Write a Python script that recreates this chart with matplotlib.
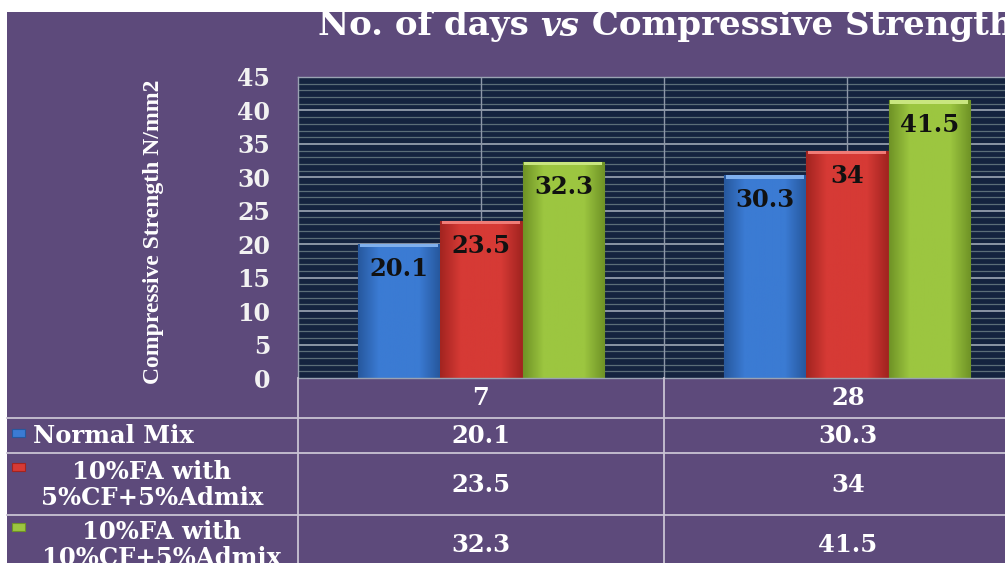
import matplotlib
matplotlib.use('Agg')
import matplotlib.pyplot as plt
import numpy as np
from matplotlib.colors import LinearSegmentedColormap

# data
days = ['7', '28']
series = ['Normal Mix', '10%FA with\n5%CF+5%Admix', '10%FA with\n10%CF+5%Admix']
normal = [20.1, 30.3]
fa5 = [23.5, 34]
fa10 = [32.3, 41.5]
values = [normal, fa5, fa10]
colors = ['#3b7bd3', '#d63a35', '#9cc640']
dark = ['#27589e', '#a32420', '#6f9326']
light = ['#7fb0ee', '#f07b76', '#c9e67f']

W, H = 1005, 563
purple = '#5d4a7b'
serif = 'DejaVu Serif'

fig = plt.figure(figsize=(W / 100, H / 100), dpi=100, facecolor='white')

# purple panel (white strip top and left like the crop)
bg = fig.add_axes([7 / W, 0, 1 - 7 / W, 1 - 12 / H])
bg.set_facecolor(purple)
bg.set_xticks([])
bg.set_yticks([])
for s in bg.spines.values():
    s.set_visible(False)

# plot area
left, right, top, bottom = 298, 1030, 77, 378
ax = fig.add_axes([left / W, 1 - bottom / H, (right - left) / W, (bottom - top) / H])
ax.set_facecolor('#14233f')
for y in range(1, 45):
    if y % 5 == 0:
        ax.axhline(y, color='#a9b3c0', lw=1.1, zorder=1)
    else:
        ax.axhline(y, color='#5b6d78', lw=0.9, zorder=1)
for xv in [0, 0.5, 1]:
    ax.axvline(xv, color='#8d97a8', lw=1, zorder=1)
for s in ax.spines.values():
    s.set_color('#9aa3b3')
    s.set_linewidth(1)

x = np.arange(len(days))
bw = 0.222
offs = [-0.225, 0, 0.225]
for i, vals in enumerate(values):
    bars = ax.bar(x + offs[i], vals, bw, color=colors[i], edgecolor=dark[i], lw=0.8, zorder=2)
    cmap = LinearSegmentedColormap.from_list('b%d' % i, [dark[i], colors[i], colors[i], colors[i], dark[i]])
    grad = np.linspace(0, 1, 100).reshape(1, -1)
    for b, v in zip(bars, vals):
        im = ax.imshow(grad, cmap=cmap, aspect='auto', zorder=2.5,
                       extent=[b.get_x(), b.get_x() + b.get_width(), 0, v])
        im.set_clip_path(b)
        ax.bar(b.get_x() + b.get_width() / 2, 0.5, b.get_width() * 0.96, bottom=v - 0.5,
               color=light[i], lw=0, zorder=2.6)
        ax.annotate('%g' % v, (b.get_x() + b.get_width() / 2, v), xytext=(0, -18),
                    textcoords='offset points', ha='center', va='center',
                    fontsize=17.5, fontweight='bold', family=serif, color='#111111', zorder=3)
ax.set_xlim(-0.5, 1.5)
ax.set_ylim(0, 45)
ax.set_xticks([])
ax.set_yticks(range(0, 46, 5))
ax.tick_params(axis='y', length=0, pad=20, labelsize=17, labelcolor='#f2f2f2')
for t in ax.get_yticklabels():
    t.set_fontweight('bold')
    t.set_family(serif)

# y label
fig.text(154 / W, 1 - 232 / H, 'Compressive Strength N/mm2', rotation=90, ha='center', va='center',
         fontsize=17, fontweight='bold', family='Liberation Serif', color='white')

# title in three pieces so "vs" can be italic
parts = [('No. of days ', 'normal'), ('vs', 'italic'), (' Compressive Strength', 'normal')]
fig.canvas.draw()
r = fig.canvas.get_renderer()
tx = 318
for txt, st in parts:
    t = fig.text(tx / W, 1 - 26 / H, txt, ha='left', va='center', fontsize=24.5,
                 fontweight='bold', style=st, family=serif, color='white')
    tx += t.get_window_extent(r).width

# data table
lc = '#c9c3d3'
def hline(y, x0, x1):
    fig.add_artist(plt.Line2D([x0 / W, x1 / W], [1 - y / H, 1 - y / H], color=lc, lw=1.3))
def vline(xp, y0, y1):
    fig.add_artist(plt.Line2D([xp / W, xp / W], [1 - y0 / H, 1 - y1 / H], color=lc, lw=1.3))

hline(418, 7, W)
hline(453, 7, W)
hline(515, 7, W)
vline(298, 378, H)
vline(664, 378, H)

col_x = [481, 848]
for d, cx in zip(days, col_x):
    fig.text(cx / W, 1 - 398 / H, d, ha='center', va='center', fontsize=17.5,
             fontweight='bold', family=serif, color='white')

row_y = [436, 485, 545]
lab_x = [33, 152, 162]
for i, (name, vals) in enumerate(zip(series, values)):
    ha = 'left' if i == 0 else 'center'
    fig.text(lab_x[i] / W, 1 - row_y[i] / H, name, ha=ha, va='center', fontsize=17.5,
             fontweight='bold', family=serif, color='white', linespacing=1.1)
    mk_y = 433 if i == 0 else row_y[i] - 18
    fig.patches.append(plt.Rectangle((12 / W, 1 - (mk_y + 4) / H), 13 / W, 8 / H,
                                     transform=fig.transFigure, facecolor=colors[i],
                                     edgecolor=dark[i], lw=0.8, figure=fig))
    for v, cx in zip(vals, col_x):
        fig.text(cx / W, 1 - row_y[i] / H, '%g' % v, ha='center', va='center', fontsize=17.5,
                 fontweight='bold', family=serif, color='white')

fig.savefig('out.png', dpi=100, facecolor=fig.get_facecolor())
